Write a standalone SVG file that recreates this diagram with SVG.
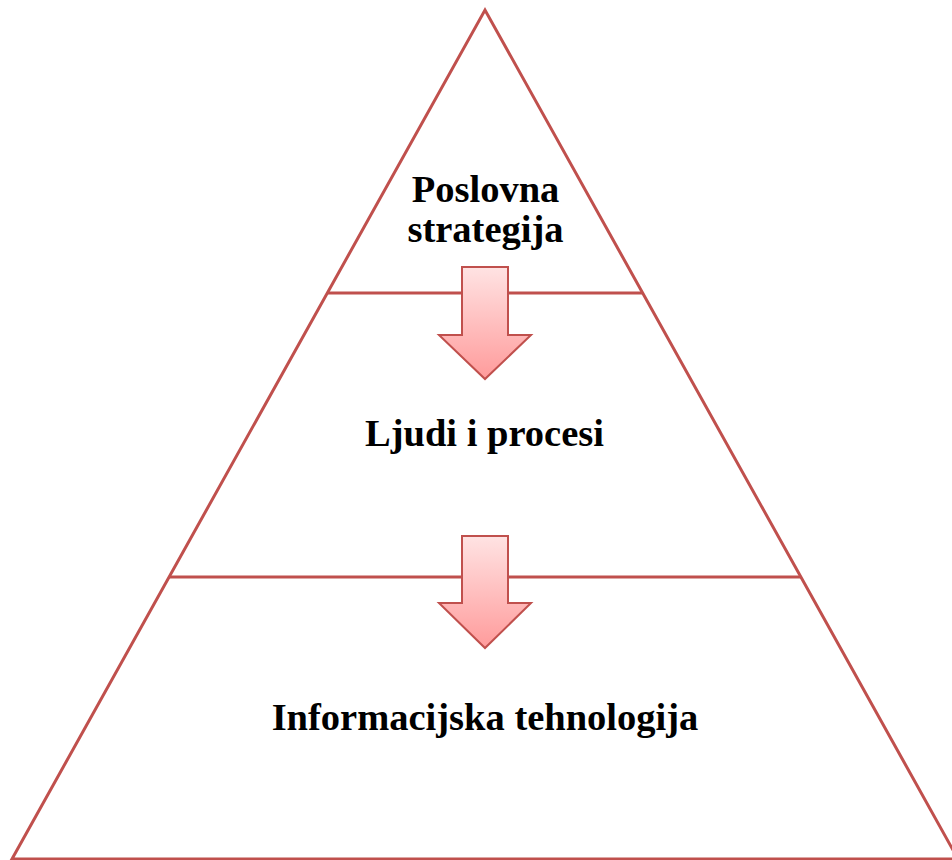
<svg xmlns="http://www.w3.org/2000/svg" width="952" height="860" viewBox="0 0 952 860">
<defs>
<linearGradient id="ag" x1="0" y1="0" x2="0" y2="1">
<stop offset="0" stop-color="#ffe3e3"/>
<stop offset="1" stop-color="#ff9b9b"/>
</linearGradient>
<style>
.ln{fill:none;stroke:#c0504d;stroke-width:3;stroke-linejoin:miter}
.ar{fill:url(#ag);stroke:#c0504d;stroke-width:2;stroke-linejoin:miter}
.t{font-family:"Liberation Serif","Times New Roman",serif;font-weight:bold;font-size:38.5px;fill:#000;text-anchor:middle}
</style>
</defs>
<rect width="952" height="860" fill="#fff"/>
<g id="pyramid">
<path class="ln" d="M12,859 L485,10 L958,859 Z"/>
</g>
<g id="connectors">
<line class="ln" x1="327" y1="293" x2="643" y2="293"/>
<line class="ln" x1="169" y1="577" x2="801" y2="577"/>
<path id="arrow1" class="ar" d="M462,267 L508,267 L508,335 L531,335 L485,379 L439,335 L462,335 Z"/>
<path id="arrow2" class="ar" d="M462,536 L508,536 L508,603 L531,603 L485,648 L439,603 L462,603 Z"/>
</g>
<g id="node-strategija">
<text class="t" x="485.5" y="202">Poslovna</text>
<text class="t" x="485.5" y="242">strategija</text>
</g>
<g id="node-ljudi">
<text class="t" x="484.5" y="446">Ljudi i procesi</text>
</g>
<g id="node-it">
<text class="t" x="485" y="730">Informacijska tehnologija</text>
</g>
</svg>
